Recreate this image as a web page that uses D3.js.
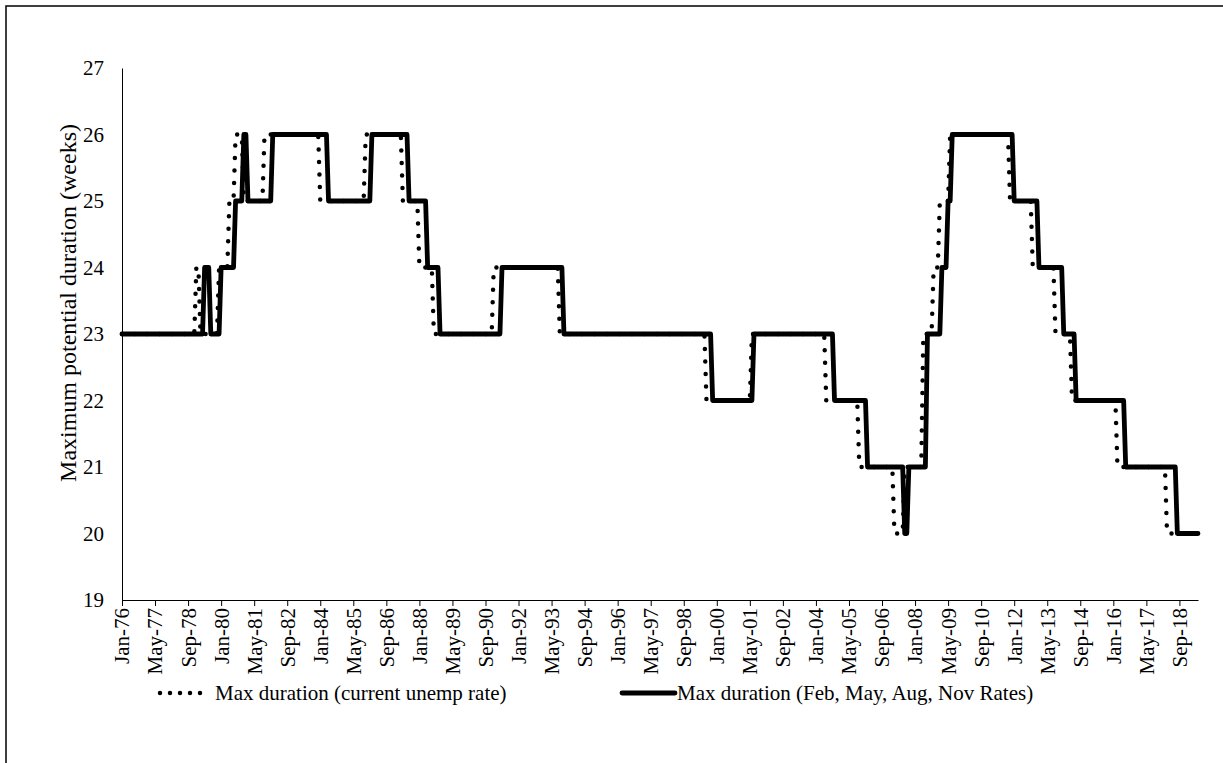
<!DOCTYPE html>
<html>
<head>
<meta charset="utf-8">
<script src="https://cdn.jsdelivr.net/npm/d3@7/dist/d3.min.js"></script>
<style>
body { margin: 0; background: #fff; }
svg text { font-family: "Liberation Serif", "Times New Roman", serif; fill: #000; }
</style>
</head>
<body>
<script>
// monthly series, first month Jan 1976
var startYear = 1976;
// Max duration (current unemp rate): value, and how many months it lasts
var currentValues = [23,24,23,24,25,26,25,26,25,26,25,24,23,24,23,22,23,22,21,20,21,23,24,25,26,25,24,23,22,21,20];
var currentMonths = [36,2,9,5,3,4,10,27,22,18,8,7,29,32,71,22,36,16,17,5,9,5,3,5,29,11,11,8,22,24,16];
// Max duration (Feb, May, Aug, Nov Rates)
var quarterValues = [23,24,23,24,25,26,25,26,25,26,25,24,23,24,23,22,23,22,21,20,21,23,24,25,26,25,24,23,22,21,20];
var quarterMonths = [40,3,5,7,4,2,12,27,21,18,9,6,30,30,72,20,39,16,18,2,9,7,3,2,30,12,12,6,24,25,11];
// axis
var yTicks = [19,20,21,22,23,24,25,26,27];
var labelEvery = 16; // one x label every 16 months
var seriesNames = ["Max duration (current unemp rate)", "Max duration (Feb, May, Aug, Nov Rates)"];

// runs -> one value per month
function expand(values, months) {
  var out = [];
  values.forEach((v, i) => { for (var k = 0; k < months[i]; k++) out.push(v); });
  return out;
}
var current = expand(currentValues, currentMonths);
var quarter = expand(quarterValues, quarterMonths);
var n = quarter.length;

var W = 1223, H = 763;
var margin = {top: 68, left: 122, right: 25, bottom: 163}; // plot = 122..1198, 68..600
var fmt = d3.timeFormat("%b-%y");

var svg = d3.select("body").append("svg")
.attr("width", W)
.attr("height", H);

// Rahmen um das ganze Diagramm
svg.append("rect")
.attr("x", 6).attr("y", 6)
.attr("width", W + 20).attr("height", H + 20)
.attr("fill", "none")
.attr("stroke", "#000")
.attr("stroke-width", 1.5);

var x = d3.scaleLinear()
.domain([0, n - 1])
.range([margin.left, W - margin.right]);

var y = d3.scaleLinear()
.domain([19, 27])
.range([H - margin.bottom, margin.top]);

// y axis
var yAxis = svg.append("g")
.attr("transform", "translate(" + margin.left + ",0)")
.call(d3.axisLeft(y).tickValues(yTicks).tickSize(0).tickPadding(18));
yAxis.selectAll("text").attr("font-size", 21);
yAxis.select(".domain").attr("stroke", "#000");

// x axis
var xAxis = svg.append("g")
.attr("transform", "translate(0," + y(19) + ")")
.call(d3.axisBottom(x)
  .tickValues(d3.range(0, n, labelEvery))
  .tickSize(6).tickSizeOuter(0)
  .tickFormat(i => fmt(new Date(startYear, i, 1))));
xAxis.selectAll("line").attr("stroke", "#000");
xAxis.select(".domain").attr("stroke", "#000");
xAxis.selectAll("text")
.attr("font-size", 21)
.attr("transform", "rotate(-90)")
.attr("x", -8).attr("y", 0).attr("dy", "0.33em")
.style("text-anchor", "end");

// y title
svg.append("text")
.attr("transform", "translate(76,303) rotate(-90)")
.attr("text-anchor", "middle")
.attr("font-size", 24)
.text("Maximum potential duration (weeks)");

var line = d3.line()
.x((d, i) => x(i))
.y(d => y(d));

// dotted series first, solid on top
svg.append("path")
.datum(current)
.attr("fill", "none")
.attr("stroke", "#000")
.attr("stroke-width", 4.5)
.attr("stroke-linecap", "round")
.attr("stroke-dasharray", "0 12.5")
.attr("d", line);

svg.append("path")
.datum(quarter)
.attr("fill", "none")
.attr("stroke", "#000")
.attr("stroke-width", 4.8)
.attr("stroke-linecap", "round")
.attr("stroke-linejoin", "round")
.attr("d", line);

// legend
var legY = 693;
var leg = svg.append("g");
leg.append("line")
.attr("x1", 160).attr("x2", 210).attr("y1", legY).attr("y2", legY)
.attr("stroke", "#000").attr("stroke-width", 4.5)
.attr("stroke-linecap", "round").attr("stroke-dasharray", "0 10");
leg.append("text")
.attr("x", 215).attr("y", legY).attr("dy", "0.33em")
.attr("font-size", 21)
.text(seriesNames[0]);
leg.append("line")
.attr("x1", 622).attr("x2", 675).attr("y1", legY).attr("y2", legY)
.attr("stroke", "#000").attr("stroke-width", 4.8)
.attr("stroke-linecap", "round");
leg.append("text")
.attr("x", 677).attr("y", legY).attr("dy", "0.33em")
.attr("font-size", 21)
.text(seriesNames[1]);
</script>
</body>
</html>
